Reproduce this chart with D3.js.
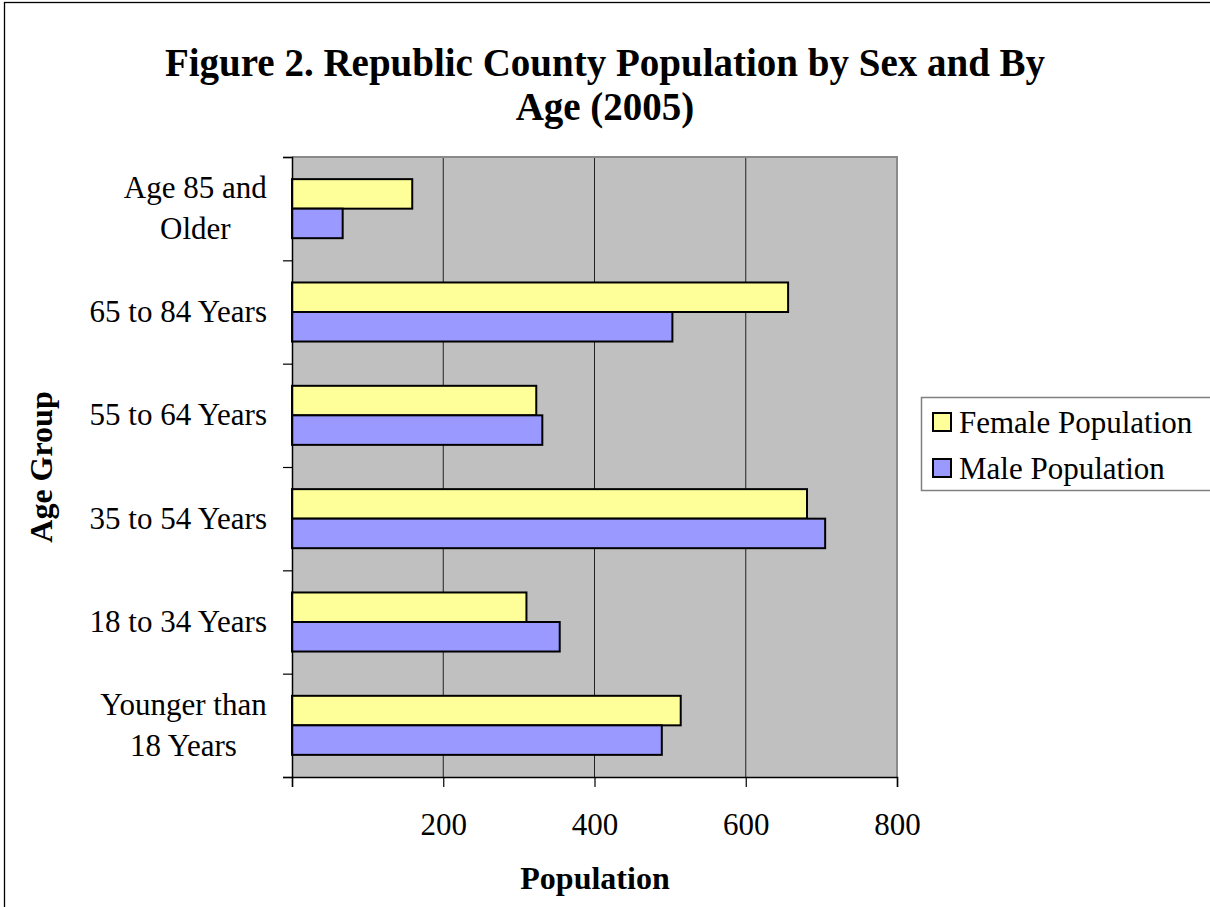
<!DOCTYPE html>
<html>
<head>
<meta charset="utf-8">
<script src="https://cdn.jsdelivr.net/npm/d3@7"></script>
<style>
  html, body { margin: 0; padding: 0; background: #ffffff; }
  svg { display: block; }
  text { font-family: "Liberation Serif", "Times New Roman", serif; fill: #000; }
</style>
</head>
<body>
<svg id="chart" width="1210" height="907"></svg>
<script>
// ---- data ----
const categories = ["Age 85 and\nOlder", "65 to 84 Years", "55 to 64 Years", "35 to 54 Years", "18 to 34 Years", "Younger than\n18 Years"];
const femaleValues = [159, 656, 323, 681, 310, 514];
const maleValues = [67, 503, 331, 705, 354, 489];
const seriesNames = ["Female Population", "Male Population"];
const xTicks = [0, 200, 400, 600, 800];
const titleLines = ["Figure 2. Republic County Population by Sex and By", "Age (2005)"];
const xTitle = "Population";
const yTitle = "Age Group";

// ---- layout ----
const svg = d3.select("#chart");
const plot = { left: 292, right: 897, top: 157, bottom: 777 };
const colors = ["#FFFF99", "#9999FF"];

// outer frame
svg.append("rect").attr("x", 4.5).attr("y", 2.5).attr("width", 1300).attr("height", 1000)
  .attr("fill", "#fff").attr("stroke", "#000").attr("stroke-width", 1.3);

const x = d3.scaleLinear().domain([0, 800]).range([plot.left, plot.right]);
const y = d3.scaleBand().domain(categories).range([plot.top, plot.bottom]).paddingInner(0).paddingOuter(0);
const yEdge = d3.scaleLinear().domain([0, categories.length]).range([plot.top, plot.bottom]);

const band = y.bandwidth();
const barH = band / 3.5;
const barOff = (band - 2 * barH) / 2;

// plot area background
svg.append("rect").attr("x", plot.left).attr("y", plot.top)
  .attr("width", plot.right - plot.left).attr("height", plot.bottom - plot.top)
  .attr("fill", "#C0C0C0");

// gridlines
svg.append("g").selectAll("line").data(xTicks.filter(d => d > 0 && d < 800)).join("line")
  .attr("x1", d => x(d)).attr("x2", d => x(d))
  .attr("y1", plot.top).attr("y2", plot.bottom)
  .attr("stroke", "#222").attr("stroke-width", 1);

// plot border top/right (gray)
svg.append("path")
  .attr("d", `M${plot.left},${plot.top}H${plot.right}V${plot.bottom}`)
  .attr("fill", "none").attr("stroke", "#8a8a8a").attr("stroke-width", 2);

// bars
const rows = categories.map((c, i) => ({ c, vals: [femaleValues[i], maleValues[i]] }));
const gBars = svg.append("g");
rows.forEach(r => {
  r.vals.forEach((v, k) => {
    gBars.append("rect")
      .attr("x", x(0))
      .attr("y", y(r.c) + barOff + k * barH)
      .attr("width", x(v) - x(0))
      .attr("height", barH)
      .attr("fill", colors[k])
      .attr("stroke", "#000")
      .attr("stroke-width", 2);
  });
});

// x axis
const xAxis = d3.axisBottom(x).tickValues(xTicks).tickSize(10).tickFormat(d => d === 0 ? "" : d);
const gx = svg.append("g").attr("transform", `translate(0,${plot.bottom})`).call(xAxis);
gx.select(".domain").attr("stroke", "#000").attr("stroke-width", 1.5);
gx.selectAll(".tick line").attr("stroke", "#000").attr("stroke-width", 1.2);
gx.selectAll(".tick text").attr("y", 58).attr("dy", null)
  .style("font-family", "Liberation Serif").style("font-size", "31px").attr("fill", "#000");

// y axis (ticks at category boundaries)
const yAxis = d3.axisLeft(yEdge).tickValues(d3.range(categories.length + 1)).tickSize(9).tickFormat("");
const gy = svg.append("g").attr("transform", `translate(${plot.left},0)`).call(yAxis);
gy.select(".domain").attr("stroke", "#000").attr("stroke-width", 1.5);
gy.selectAll(".tick line").attr("stroke", "#000").attr("stroke-width", 1.2);

// category labels
const lineGap = 41;
const gLab = svg.append("g");
categories.forEach(c => {
  const lines = c.split("\n");
  const cy = y(c) + band / 2;
  const t = gLab.append("text")
    .attr("text-anchor", "middle")
    .style("font-size", "31px");
  lines.forEach((ln, i) => {
    t.append("tspan")
      .attr("x", 0)
      .attr("y", cy + 10 + (i - (lines.length - 1) / 2) * lineGap)
      .text(ln);
  });
  // right-align the block at x=267 while centering lines within it
  const bb = t.node().getBBox();
  const center = 267 - bb.width / 2;
  t.selectAll("tspan").attr("x", center);
});

// title
const gTitle = svg.append("text").attr("text-anchor", "middle")
  .style("font-size", "39px").style("font-weight", "bold");
titleLines.forEach((ln, i) => {
  gTitle.append("tspan").attr("x", 605).attr("y", 76 + i * 44).text(ln);
});

// axis titles
svg.append("text").attr("x", 595).attr("y", 889).attr("text-anchor", "middle")
  .style("font-size", "32px").style("font-weight", "bold").text(xTitle);
svg.append("text").attr("transform", "translate(52,467) rotate(-90)").attr("text-anchor", "middle")
  .style("font-size", "32px").style("font-weight", "bold").text(yTitle);

// legend
const lg = svg.append("g");
lg.append("rect").attr("x", 921.5).attr("y", 397.5).attr("width", 320).attr("height", 93)
  .attr("fill", "#fff").attr("stroke", "#808080").attr("stroke-width", 1.5);
seriesNames.forEach((s, i) => {
  const yy = 413 + i * 46;
  lg.append("rect").attr("x", 933).attr("y", yy).attr("width", 18).attr("height", 18)
    .attr("fill", colors[i]).attr("stroke", "#000").attr("stroke-width", 2);
  lg.append("text").attr("x", 959).attr("y", yy + 20).style("font-size", "31px").text(s);
});
</script>
</body>
</html>
